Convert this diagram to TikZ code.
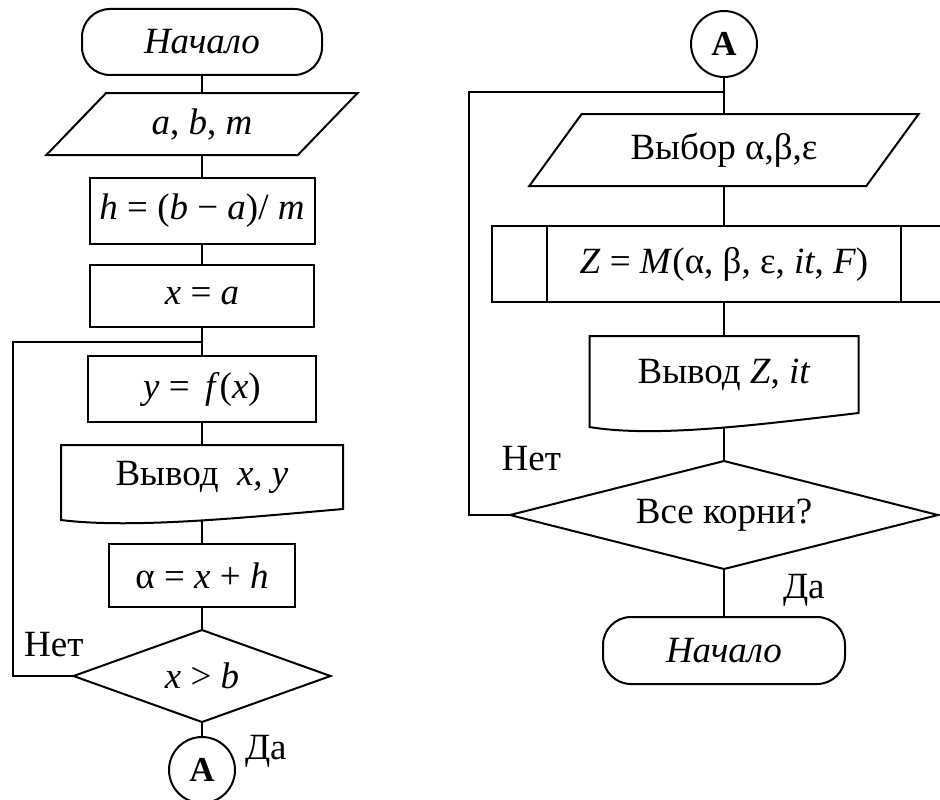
\documentclass[tikz,border=0pt]{standalone}
\usepackage{fontspec}
\setmainfont{Liberation Serif}
\usetikzlibrary{
  positioning,
  shapes.geometric,
  calc
}
\newcommand{\vv}[1]{\textit{#1}}
% outline of a document block: node name, drop of the left corner
\newcommand{\docline}[2]{%
  \draw ($(#1.south west)+(0,#2)$) -- (#1.north west) -- (#1.north east) -- (#1.south east)
    .. controls ($(#1.south east)!0.36!(#1.south west)+(0,0.8*#2)$)
    and ($(#1.south east)!0.75!(#1.south west)+(0,1.8*#2)$) .. coordinate[pos=0.457] (#1w) ($(#1.south west)+(0,#2)$) -- cycle;}

\begin{document}
\begin{tikzpicture}[
  x=1pt, y=-1pt,
  line width=2pt,
  font=\fontsize{37}{44}\selectfont,
  every node/.style={inner sep=0pt, outer sep=0pt},
  term/.style={draw, rectangle, rounded corners=28pt, minimum width=240pt, minimum height=66pt, font=\fontsize{37}{44}\selectfont\itshape},
  io/.style 2 args={draw, trapezium, trapezium left angle=45, trapezium right angle=135, trapezium stretches=true, minimum width=#1, minimum height=#2},
  proc/.style 2 args={draw, rectangle, minimum width=#1, minimum height=#2},
  docbox/.style 2 args={rectangle, minimum width=#1, minimum height=#2},
  dec/.style 2 args={draw, diamond, minimum width=#1, minimum height=#2},
  conn/.style={draw, circle, minimum size=66pt, font=\fontsize{35}{42}\selectfont\bfseries}
]
  \useasboundingbox (0,0) rectangle (940,800);

  % Left chart
  \node[term] (beg) at (202,42) {Начало};
  \node[io={312pt}{62pt}, below=18pt of beg] (inab) {\vv{a}, \vv{b}, \vv{m}};
  \node[proc={225pt}{66pt}, below=23pt of inab] (hstep) {\vv{h} = (\vv{b} − \vv{a})/ \vv{m}};
  \node[proc={224pt}{62pt}, below=21pt of hstep] (xinit) {\vv{x} = \vv{a}};
  \node[proc={228pt}{66pt}, below=29pt of xinit] (fx) {\vv{y} = \,\vv{f}(\vv{x})};
  \node[docbox={282pt}{64pt}, below=23pt of fx] (outxy) {Вывод \ \vv{x}, \vv{y}};
  \docline{outxy}{11}
  \node[proc={186pt}{63pt}, below=35pt of outxy] (xnext) {α = \vv{x} + \vv{h}};
  \node[dec={257pt}{92pt}, aspect=2.8, below=23pt of xnext] (cmpx) {\vv{x} > \vv{b}};
  \node[conn, below=15pt of cmpx] (ca) {A};
  \coordinate (jl) at ($(xinit.south)!0.5!(fx.north)$);

  \node[above left=19pt and -10pt of cmpx.west] (nol) {Нет};
  \node[below right=13pt and 43pt of cmpx.south] (yesl) {Да};

  \draw (beg.south) -- (inab.north);
  \draw (inab.south) -- (hstep.north);
  \draw (hstep.south) -- (xinit.north);
  \draw (xinit.south) -- (fx.north);
  \draw (fx.south) -- (outxy.north);
  \draw (outxyw -| xnext.north) -- (xnext.north);
  \draw (xnext.south) -- (cmpx.north);
  \draw (cmpx.south) -- (ca.north);
  \draw (cmpx.west) -- ++(-61,0) |- (jl);

  % Right chart
  \node[conn] (cb) at (724,44) {A};
  \node[io={390pt}{72pt}, below=37pt of cb] (choose) {Выбор α,β,ε};
  \node[proc={464pt}{76pt}, below=40pt of choose] (zcall) {\vv{Z} = \vv{M}(α, β, ε, \vv{it}, \vv{F})};
  \draw ([xshift=55pt]zcall.north west) -- ([xshift=55pt]zcall.south west);
  \draw ([xshift=-55pt]zcall.north east) -- ([xshift=-55pt]zcall.south east);
  \node[docbox={269pt}{77pt}, below=34pt of zcall] (outz) {Вывод \vv{Z}, \vv{it}};
  \docline{outz}{14}
  \node[dec={428pt}{108pt}, aspect=4, below=48pt of outz] (allr) {Все корни?};
  \node[term, minimum width=242pt, minimum height=67pt, below=48pt of allr] (fin) {Начало};
  \coordinate (jr) at ($(cb.south)!0.4!(choose.north)$);

  \node[above left=44pt and -51pt of allr.west] (nor) {Нет};
  \node[below right=5pt and 59pt of allr.south] (yesr) {Да};

  \draw (cb.south) -- (choose.north);
  \draw (choose.south) -- (zcall.north);
  \draw (zcall.south) -- (outz.north);
  \draw (outzw -| allr.north) -- (allr.north);
  \draw (allr.south) -- (fin.north);
  \draw (allr.west) -- ++(-41,0) |- (jr);
\end{tikzpicture}
\end{document}
